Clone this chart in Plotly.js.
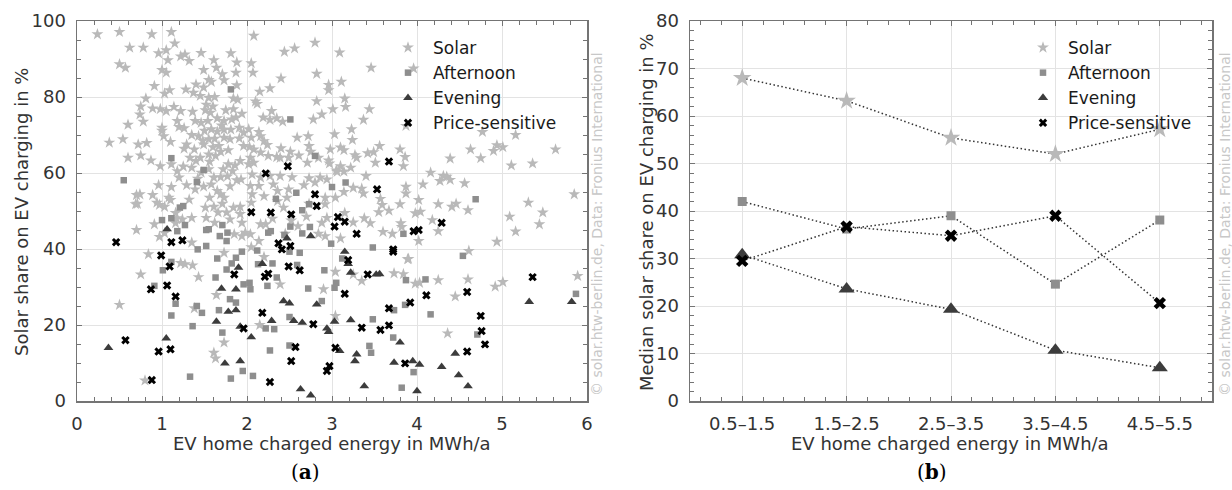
<!DOCTYPE html>
<html><head><meta charset="utf-8">
<script src="https://cdn.plot.ly/plotly-3.0.1.min.js"></script>
<style>html,body{margin:0;padding:0;background:#fff}#chart{width:1232px;height:490px}</style>
</head><body><div id="chart"></div>
<script>
// ---------- Panel (a): scatter, [energy MWh/a, solar share %] ----------
const solarPoints = [
[.24,96.5],[.50,97.1],[.88,96.5],[1.11,97.1],[.62,93.0],[.78,93.0],[1.15,94.1],[.96,91.5],[1.05,92.3],[.50,88.6],[.57,87.7],[1.07,89.7],[1.22,90.7],[1.27,91.2],[1.32,89.5],[1.46,91.6],[1.0,87.1],[1.05,86.4],[1.49,87.1],[1.61,89.7],[1.64,87.7],[1.81,91.5],[1.88,89.1],[1.71,86.0],[1.55,84.5],[1.58,84.0],[1.73,84.4],[1.87,86.4],[.91,82.9],[1.40,83.3],[1.49,82.5],[1.28,82.0],[1.09,81.8],[1.03,80.9],[1.37,81.1],[1.55,79.8],[1.45,80.3],[1.62,80.0],[1.88,83.1],[1.84,79.6],[1.89,79.3],[.81,79.6],[.75,77.5],[.89,77.0],[.98,76.8],[1.05,76.3],[1.14,77.4],[1.22,76.3],[.74,75.4],[.78,73.5],[.60,72.7],[.38,68.0],[.54,68.9],[.72,67.5],[.82,67.9],[.60,64.0],[.75,64.6],[.87,63.3],[1.10,68.2],[1.0,71.9],[1.0,71.1],[1.18,73.7],[1.20,72.1],[1.02,69.7],[1.36,76.1],[1.51,76.5],[1.57,75.9],[1.75,76.5],[1.84,76.8],[1.94,75.6],[1.39,73.7],[1.46,73.2],[1.54,73.7],[1.65,74.4],[1.73,73.7],[1.82,74.1],[1.87,74.6],[1.26,71.8],[1.35,70.0],[1.43,69.7],[1.50,71.1],[1.58,71.5],[1.65,70.9],[1.73,71.4],[1.81,71.4],[1.91,71.9],[1.96,70.6],[1.29,67.5],[1.38,66.2],[1.49,67.5],[1.55,68.9],[1.60,66.8],[1.67,67.1],[1.73,69.3],[1.80,68.9],[1.91,69.1],[1.96,67.1],[1.26,66.4],[1.11,62.3],[.98,61.8],[1.18,60.5],[1.33,64.0],[1.40,63.2],[1.45,64.0],[1.55,64.9],[1.63,64.5],[1.69,65.6],[1.78,62.3],[1.86,62.0],[1.92,63.2],[1.25,61.7],[1.35,61.4],[1.46,60.1],[1.55,61.0],[1.61,58.8],[1.69,58.9],[1.77,59.1],[1.88,58.1],[1.93,58.3],[.96,56.8],[1.11,56.3],[1.29,56.8],[1.39,55.7],[1.49,56.4],[1.65,55.3],[1.69,54.4],[1.73,53.5],[.70,54.2],[.74,54.4],[.89,54.2],[.69,51.8],[.94,52.2],[1.03,51.1],[1.51,50.9],[1.61,51.1],[1.71,51.9],[1.84,50.9],[1.92,51.1],
[1.52,78.0],[1.60,77.5],[1.70,72.5],[1.62,69.0],[1.48,68.5],[1.78,66.0],[1.56,63.0],[1.83,60.5],[1.72,61.0],[1.42,58.5],[1.58,57.0],[1.80,56.5],[1.20,58.8],[1.32,53.0],[1.56,53.5],[1.08,53.5],[1.16,49.5],
[2.08,96.1],[2.44,91.9],[2.56,92.8],[2.80,94.3],[3.09,91.7],[2.05,88.9],[2.07,86.4],[2.40,84.9],[2.82,86.1],[3.46,87.7],[3.11,84.0],[2.96,83.2],[2.96,81.8],[2.15,81.4],[2.27,82.3],[2.10,78.8],[2.12,78.2],[2.82,78.9],[3.15,79.6],[2.29,76.3],[2.19,74.6],[2.27,74.0],[2.35,74.4],[2.42,73.5],[2.78,74.1],[2.88,75.4],[3.01,76.8],[3.16,77.4],[3.44,76.8],[3.37,74.0],[3.87,72.4],[2.02,71.5],[2.14,70.8],[2.16,69.7],[2.20,68.4],[2.05,69.3],[2.59,69.3],[2.72,69.7],[3.03,70.2],[3.23,71.5],[3.24,68.7],[2.03,66.8],[2.08,66.2],[2.16,65.4],[2.24,67.4],[2.40,66.5],[2.51,65.6],[2.73,67.1],[2.75,65.6],[2.98,66.2],[3.10,66.7],[3.14,66.0],[3.27,64.7],[3.29,64.0],[3.42,65.2],[3.49,65.5],[3.56,67.1],[3.80,66.2],[3.86,64.2],[2.04,64.0],[2.02,62.3],[2.08,62.7],[2.25,64.5],[2.35,64.2],[2.39,64.0],[2.49,64.0],[2.61,64.6],[2.71,62.7],[2.84,64.0],[2.96,63.3],[2.97,62.5],[3.05,60.7],[3.10,61.8],[3.22,61.4],[3.51,62.7],[3.84,61.8],[2.06,59.6],[2.16,58.8],[2.27,59.2],[2.39,59.2],[2.31,57.0],[2.53,58.9],[2.73,58.6],[2.86,58.8],[3.06,60.3],[3.14,60.4],[3.40,59.2],[3.87,56.4],[3.87,54.6],[2.04,56.6],[2.14,56.6],[2.36,55.3],[2.49,55.7],[2.67,56.8],[2.80,57.5],[2.94,58.3],[3.04,53.5],[3.14,55.0],[3.25,56.1],[3.35,55.9],[3.37,54.6],[3.57,53.2],[3.80,51.8],[2.06,54.4],[2.20,53.9],[2.36,52.6],[2.47,53.5],[2.73,51.9],[2.92,53.5],[2.05,52.2],[2.43,50.9],[2.92,51.8],[3.59,51.6],[3.96,87.5],
[.91,46.5],[.97,43.2],[.84,38.6],[.75,33.3],[.50,25.3],[.80,5.4],[1.17,48.1],[1.24,47.8],[1.35,48.2],[1.27,36.0],[1.36,35.7],[1.43,32.6],[1.35,41.7],[1.38,24.4],[1.61,12.7],[1.63,11.2],[1.64,27.9],[1.73,15.4],[1.52,48.2],[1.62,46.9],[1.80,47.8],[1.94,46.9],[1.85,43.9],[1.94,43.4],[1.73,39.0],[1.98,44.3],[1.66,49.6],[1.76,49.6],[1.92,49.2],[.70,45.0],[.71,51.9],[.97,51.6],[1.10,52.9],[1.22,36.3],[1.03,44.2],[1.16,46.8],
[2.16,46.5],[2.04,43.9],[2.14,42.1],[2.22,46.5],[2.84,44.0],[2.92,43.4],[3.10,42.8],[2.88,46.9],[2.94,48.2],[3.38,48.1],[3.55,49.7],[3.82,45.8],[3.89,37.3],[3.73,33.6],[3.98,30.9],[3.35,31.6],[3.25,33.3],[2.90,29.4],[3.04,34.0],[2.39,30.7],[2.20,37.9],[3.71,44.0],[3.04,22.4],[2.15,20.0],[2.30,48.0],[2.52,47.5],[2.60,46.0],[2.70,48.5],[3.15,49.5],[3.25,47.0],[3.45,46.8],[3.60,44.5],[2.45,44.0],[2.05,40.5],[3.84,33.4],[4.03,31.1],[3.90,37.4],[3.81,46.8],[3.98,49.4],[3.67,50.1],
[4.77,70.8],[5.16,70.0],[4.63,66.2],[4.75,63.9],[4.90,65.8],[4.94,67.3],[5.01,66.8],[5.63,66.2],[5.11,62.0],[5.36,62.5],[4.39,63.8],[4.16,60.1],[4.07,57.0],[4.27,57.9],[4.31,59.2],[4.35,59.0],[4.39,58.2],[4.56,57.3],[4.02,52.9],[4.04,49.8],[4.25,51.8],[4.41,51.1],[4.46,51.9],[4.60,50.2],[4.18,47.6],[4.25,44.7],[4.02,42.1],[5.31,52.2],[5.48,49.6],[5.09,48.5],[5.16,44.6],[5.44,46.5],[5.85,54.4],[4.94,41.9],[4.61,39.5],[4.25,31.8],[4.60,32.0],[4.45,27.5],[4.92,30.1],[5.01,31.3],[5.89,32.9],[4.36,17.8]
];
const afternoonPoints = [
[1.81,82.0],[1.11,63.9],[1.49,60.8],[1.41,57.6],[.55,58.1],[1.25,51.3],[1.21,50.9],
[2.51,74.1],[2.80,64.5],[3.0,56.3],[3.16,57.5],[2.34,53.2],[2.58,54.8],[2.73,51.8],[2.65,50.2],
[1.0,47.6],[1.11,48.1],[1.18,44.7],[1.27,46.3],[1.52,45.0],[1.55,45.2],[1.71,46.3],[1.77,44.3],[1.68,43.4],[1.76,42.1],[1.52,40.8],[1.42,39.9],[1.65,37.5],[1.87,37.7],[1.82,36.2],[1.94,39.3],[1.76,34.6],[1.63,32.5],[1.11,36.6],[1.01,34.4],[.91,30.3],[1.16,25.6],[1.11,22.5],[1.41,25.0],[1.47,23.2],[1.36,19.7],[1.67,23.9],[1.80,26.8],[1.87,25.9],[1.71,18.0],[1.96,30.7],[1.33,6.4],[1.81,5.9],[1.95,7.9],
[2.25,44.3],[2.28,44.7],[2.51,45.9],[2.65,44.1],[2.74,45.8],[2.44,43.7],[2.50,39.3],[2.62,39.0],[2.99,41.4],[3.48,40.4],[3.84,44.0],[3.12,37.5],[2.12,39.6],[2.13,36.0],[2.30,36.2],[2.59,35.8],[2.91,34.4],[2.35,32.5],[2.24,30.3],[2.03,31.1],[2.04,29.4],[2.72,29.6],[3.05,31.1],[3.03,29.8],[2.88,26.3],[3.87,31.8],[3.86,25.3],[3.73,23.9],[2.50,22.1],[2.32,18.9],[2.22,19.1],[3.48,21.5],[3.72,16.7],[2.50,14.6],[2.27,13.3],[3.44,14.5],[3.46,12.7],[2.07,6.6],[3.82,3.5],[3.96,7.6],
[4.69,53.1],[4.54,38.2],[4.10,32.0],[4.16,22.8],[4.71,17.5],[5.87,28.2]
];
const eveningPoints = [
[1.06,45.2],[1.90,35.1],[1.70,29.6],[1.87,29.4],[1.78,23.5],[1.87,23.9],[1.64,20.9],[1.92,19.6],[.37,14.0],[1.05,16.5],[1.74,9.9],[1.92,10.5],
[2.47,42.8],[2.75,43.4],[3.15,39.3],[3.19,36.1],[3.22,33.8],[2.18,36.1],[3.52,33.3],[3.56,33.4],[2.43,26.3],[2.50,25.7],[2.82,25.4],[2.29,21.1],[2.55,21.1],[2.65,20.6],[3.03,20.9],[3.22,21.3],[2.94,19.1],[2.96,18.2],[2.05,16.8],[3.09,13.2],[3.29,12.3],[3.27,10.5],[3.80,15.4],[3.73,10.1],[3.95,10.5],[4.03,9.6],[2.63,3.1],[2.75,1.5],[3.38,3.9],
[5.32,26.1],[5.82,26.1],[4.45,12.5],[4.29,9.0],[4.49,6.8],[4.60,3.9],[4.0,2.6]
];
const pricePoints = [
[3.67,63.0],[2.22,59.9],[2.48,61.8],[3.53,55.7],[2.80,54.4],[2.82,51.3],
[.46,41.8],[1.11,41.8],[1.24,42.3],[.99,38.3],[1.09,35.4],[1.85,33.3],[1.06,30.4],[.87,29.4],[1.16,27.5],[.57,16.0],[.96,13.0],[1.10,13.6],[.88,5.5],[1.96,19.1],
[2.05,49.7],[2.28,49.6],[2.52,49.1],[3.07,48.4],[3.15,47.2],[3.03,45.9],[3.29,44.0],[3.96,44.7],[2.37,41.5],[2.41,39.9],[2.51,40.8],[3.72,39.3],[3.72,39.9],[3.19,37.1],[2.49,35.4],[2.62,34.4],[2.21,32.7],[2.25,33.5],[3.42,33.3],[3.15,28.2],[2.18,23.2],[3.67,24.4],[3.92,25.9],[2.78,20.2],[3.35,19.3],[3.57,18.7],[3.67,19.9],[2.57,14.2],[3.04,14.0],[2.52,10.5],[2.97,9.2],[2.94,7.9],[2.27,5.0],[3.86,9.9],
[4.02,45.0],[4.29,46.9],[4.11,27.8],[4.59,28.7],[5.36,32.6],[4.75,22.4],[4.76,18.4],[4.80,14.9],[4.59,13.0]
];

// ---------- Panel (b): medians per energy bin ----------
const binLabels = ['0.5–1.5','1.5–2.5','2.5–3.5','3.5–4.5','4.5–5.5'];
const binCenters = [1, 2, 3, 4, 5];
const medianSolar = [68.0, 63.2, 55.4, 52.0, 57.2];
const medianAfternoon = [42.0, 36.2, 39.0, 24.6, 38.1];
const medianEvening = [30.8, 23.6, 19.3, 10.7, 7.0];
const medianPrice = [29.5, 36.7, 34.8, 39.0, 20.6];

const seriesNames = ['Solar','Afternoon','Evening','Price-sensitive'];
const seriesColors = ['#b9b9b9','#8e8e8e','#3c3c3c','#000000'];
const seriesSymbols = ['star','square','triangle-up','x'];

const W = 1232, H = 490;
const px = v => v / W, py = v => 1 - v / H;
const FONT = 'DejaVu Sans, Verdana, sans-serif';

const xs = p => p.map(d => d[0]), ys = p => p.map(d => d[1]);
const scatterSizes = [9, 6.5, 8.5, 7.5];
const scatterSets = [solarPoints, afternoonPoints, eveningPoints, pricePoints];

const traces = [];
scatterSets.forEach((pts, i) => {
  traces.push({
    type: 'scatter', mode: 'markers', name: seriesNames[i],
    x: xs(pts), y: ys(pts), xaxis: 'x', yaxis: 'y', legend: 'legend',
    marker: {symbol: seriesSymbols[i], color: seriesColors[i], size: scatterSizes[i], line: {width: 0}},
    hoverinfo: 'skip'
  });
});
const medians = [medianSolar, medianAfternoon, medianEvening, medianPrice];
const lineSizes = [14, 9, 14, 11];
medians.forEach((m, i) => {
  traces.push({
    type: 'scatter', mode: 'lines+markers', name: seriesNames[i], showlegend: false,
    x: binCenters, y: m, xaxis: 'x2', yaxis: 'y2',
    line: {color: '#333', width: 1.5, dash: '1.5px,2.5px'},
    marker: {symbol: seriesSymbols[i], color: seriesColors[i], size: lineSizes[i], line: {width: 0}},
    hoverinfo: 'skip'
  });
});
// legend entries for panel (b)
const legendSizes = [9, 6.5, 9, 7.5];
seriesNames.forEach((n, i) => {
  traces.push({
    type: 'scatter', mode: 'markers', name: n, x: [null], y: [null], xaxis: 'x2', yaxis: 'y2',
    legend: 'legend2',
    marker: {symbol: seriesSymbols[i], color: seriesColors[i], size: legendSizes[i], line: {width: 0}}
  });
});

const axisBase = {
  showline: true, linecolor: '#747474', linewidth: 1.5, mirror: 'ticks',
  ticks: 'inside', ticklen: 5, tickcolor: '#747474', tickwidth: 1,
  showgrid: true, gridcolor: '#e3e3e3', gridwidth: 1, zeroline: false,
  tickfont: {family: FONT, size: 18, color: '#333'}, ticklabelstandoff: 6, fixedrange: true
};
const dom = [py(401), py(21)];
const ann = (text, x, y, extra) => Object.assign({
  text: text, xref: 'paper', yref: 'paper', x: px(x), y: py(y), xanchor: 'center', yanchor: 'middle',
  showarrow: false, font: {family: FONT, size: 18, color: '#333'}
}, extra || {});
const WM = '© solar.htw-berlin.de, Data: Fronius International';
const layout = {
  width: W, height: H, margin: {l: 0, r: 0, t: 0, b: 0},
  paper_bgcolor: '#fff', plot_bgcolor: '#fff',
  font: {family: FONT, color: '#333'},
  xaxis: Object.assign({}, axisBase, {domain: [px(77), px(587)], range: [0, 6], dtick: 1, tick0: 0, anchor: 'y',
    minor: {dtick: 0.2, tick0: 0, ticks: 'inside', ticklen: 4, tickcolor: '#747474', showgrid: false}}),
  yaxis: Object.assign({}, axisBase, {domain: dom, range: [0, 100], dtick: 20, tick0: 0, anchor: 'x',
    minor: {dtick: 5, tick0: 0, ticks: 'inside', ticklen: 4, tickcolor: '#747474', showgrid: false}}),
  xaxis2: Object.assign({}, axisBase, {domain: [px(690), px(1212)], range: [0.5, 5.5], anchor: 'y2',
    tickmode: 'array', tickvals: binCenters, ticktext: binLabels,
    minor: {dtick: 0.2, tick0: 0, ticks: 'inside', ticklen: 4, tickcolor: '#747474', showgrid: false}}),
  yaxis2: Object.assign({}, axisBase, {domain: dom, range: [0, 80], dtick: 10, tick0: 0, anchor: 'x2',
    minor: {dtick: 2, tick0: 0, ticks: 'inside', ticklen: 4, tickcolor: '#747474', showgrid: false}}),
  legend: {x: px(383), y: py(30), xanchor: 'left', yanchor: 'top', bgcolor: 'rgba(0,0,0,0)', itemwidth: 40,
    font: {family: FONT, size: 17, color: '#1a1a1a'}, tracegroupgap: 0, itemclick: false},
  legend2: {x: px(1018), y: py(30), xanchor: 'left', yanchor: 'top', bgcolor: 'rgba(0,0,0,0)', itemwidth: 40,
    font: {family: FONT, size: 17, color: '#1a1a1a'}, tracegroupgap: 0, itemclick: false},
  showlegend: true,
  annotations: [
    ann('Solar share on EV charging in %', 21, 212, {textangle: -90}),
    ann('EV home charged energy in MWh/a', 332, 443),
    ann('Median solar share on EV charging in %', 646, 212, {textangle: -90}),
    ann('EV home charged energy in MWh/a', 950, 443),
    ann(WM, 597, 224, {textangle: -90, font: {family: FONT, size: 14, color: '#c8c8c8'}}),
    ann(WM, 1225, 224, {textangle: -90, font: {family: FONT, size: 14, color: '#c8c8c8'}}),
    ann('(<b>a</b>)', 305, 472, {font: {family: 'DejaVu Serif, serif', size: 20, color: '#000'}}),
    ann('(<b>b</b>)', 932, 472, {font: {family: 'DejaVu Serif, serif', size: 20, color: '#000'}})
  ]
};
Plotly.newPlot('chart', traces, layout, {displayModeBar: false, staticPlot: true});
</script></body></html>
